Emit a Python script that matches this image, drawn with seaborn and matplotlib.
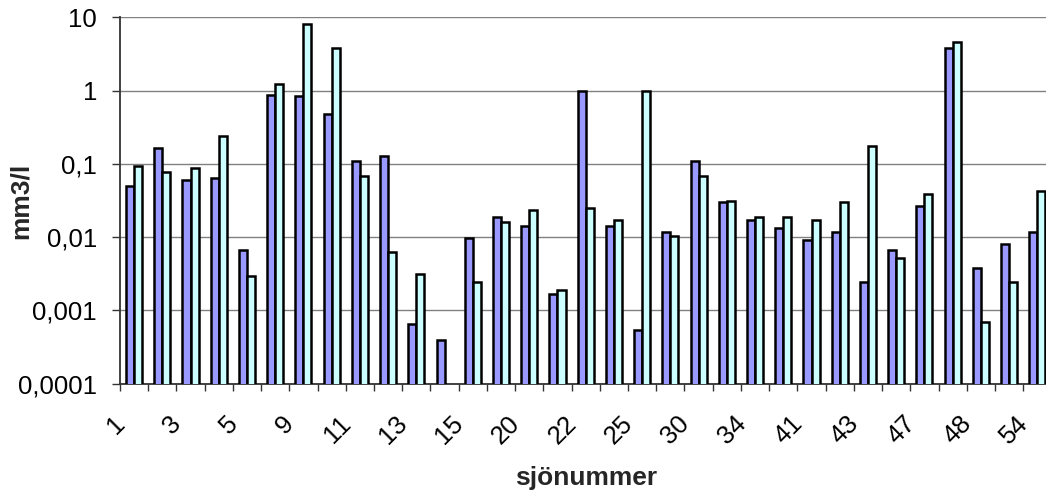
import numpy as np
import pandas as pd
import matplotlib
matplotlib.use("Agg")
import matplotlib.pyplot as plt
from matplotlib.ticker import FixedLocator, FixedFormatter, NullLocator
from matplotlib.transforms import ScaledTranslation
import seaborn as sns

# Lake numbers printed under every second pair of bars
shown_lakes = ["1", "3", "5", "9", "11", "13", "15", "20", "22", "25",
               "30", "34", "41", "43", "47", "48", "54"]

# Biovolume per sample (mm3/l), one value per lake position
series_a = [0.050, 0.166, 0.060, 0.064, 0.0067, 0.887, 0.84, 0.478, 0.111, 0.128,
            0.00065, 0.00039, 0.0097, 0.0191, 0.0141, 0.00166, 1.0, 0.0141, 0.000535,
            0.0117, 0.111, 0.030, 0.017, 0.0133, 0.0091, 0.0117, 0.0024, 0.0067,
            0.0265, 3.81, 0.0038, 0.0080, 0.0117]
series_b = [0.093, 0.077, 0.0875, 0.239, 0.00296, 1.24, 8.1, 3.81, 0.0687, 0.0063,
            0.00312, np.nan, 0.0024, 0.016, 0.0233, 0.00188, 0.0248, 0.017, 1.0,
            0.0103, 0.0687, 0.0316, 0.0191, 0.0191, 0.017, 0.030, 0.175, 0.0052,
            0.039, 4.6, 0.00069, 0.0024, 0.0433]

y_ticks = [0.0001, 0.001, 0.01, 0.1, 1, 10]
y_tick_labels = ["0,0001", "0,001", "0,01", "0,1", "1", "10"]

n = len(series_a)
df = pd.DataFrame({
    "plats": list(range(n)) * 2,
    "mm3/l": series_a + series_b,
    "serie": ["A"] * n + ["B"] * n,
})

sns.set_theme(style="white")
plt.rcParams["font.family"] = ["Liberation Sans", "DejaVu Sans"]

fig = plt.figure(figsize=(10.46, 4.90), dpi=100)
ax = fig.add_axes([0.1147, 0.2173, 0.8905, 0.7470])

# bars are drawn from zero, then the value axis is switched to log
sns.barplot(data=df, x="plats", y="mm3/l", hue="serie",
            palette=["#9999FF", "#CCFFFF"], saturation=1,
            width=0.57, gap=0, edgecolor="black", linewidth=1.8,
            legend=False, ax=ax, zorder=3)
ax.set_yscale("log")

ax.set_ylim(0.0001, 10)
ax.set_xlim(-0.5, n - 0.5)

# y axis: decades with comma decimals
ax.yaxis.set_major_locator(FixedLocator(y_ticks))
ax.yaxis.set_major_formatter(FixedFormatter(y_tick_labels))
ax.yaxis.set_minor_locator(NullLocator())
ax.yaxis.grid(True, which="major", color="#808080", linewidth=1.0, zorder=0)
ax.set_axisbelow(True)
ax.tick_params(axis="y", which="major", left=True, length=6, width=1.0,
               color="#333333", pad=10.5, labelsize=18.5, labelcolor="black")

# x axis: tick marks at category borders, labels on every second category
ax.xaxis.set_major_locator(FixedLocator(list(range(0, n, 2))))
ax.xaxis.set_major_formatter(FixedFormatter(shown_lakes))
ax.xaxis.set_minor_locator(FixedLocator([i - 0.5 for i in range(n + 1)]))
ax.tick_params(axis="x", which="major", bottom=True, length=0, pad=26,
               labelsize=18.5, labelcolor="black")
ax.tick_params(axis="x", which="minor", bottom=True, length=5, width=1.0,
               color="#333333")
shift = ScaledTranslation(-13 / 100, 0, fig.dpi_scale_trans)
for lab in ax.get_xticklabels():
    lab.set_rotation(45)
    lab.set_ha("right")
    lab.set_va("center")
    lab.set_rotation_mode("anchor")
    lab.set_transform(lab.get_transform() + shift)

for side in ["top", "right"]:
    ax.spines[side].set_visible(False)
for side in ["left", "bottom"]:
    ax.spines[side].set_color("#333333")
    ax.spines[side].set_linewidth(1.3)

ax.set_xlabel("sjönummer", fontsize=19, fontweight="bold", va="center")
ax.set_ylabel("mm3/l", fontsize=19, fontweight="bold", va="center")
ax.xaxis.set_label_coords(0.5, -0.258)
ax.yaxis.set_label_coords(-0.107, 0.5)

fig.savefig("out.png", dpi=100)
